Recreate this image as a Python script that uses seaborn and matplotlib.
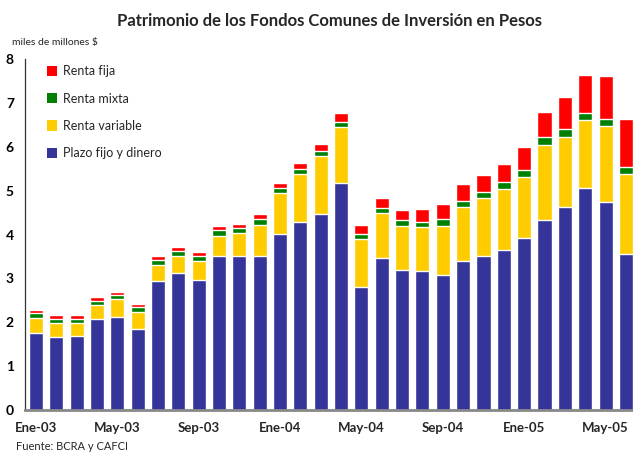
import numpy as np
import pandas as pd
import matplotlib
matplotlib.use("Agg")
import matplotlib.pyplot as plt
import seaborn as sns
from matplotlib.patches import Patch

# ── Data (miles de millones de $) ─────────────────────────────────────────────
months = [
    "Ene-03", "Feb-03", "Mar-03", "Abr-03", "May-03", "Jun-03", "Jul-03", "Ago-03",
    "Sep-03", "Oct-03", "Nov-03", "Dic-03", "Ene-04", "Feb-04", "Mar-04", "Abr-04",
    "May-04", "Jun-04", "Jul-04", "Ago-04", "Sep-04", "Oct-04", "Nov-04", "Dic-04",
    "Ene-05", "Feb-05", "Mar-05", "Abr-05", "May-05", "Jun-05",
]
plazo_fijo = [1.76, 1.66, 1.69, 2.07, 2.12, 1.85, 2.94, 3.12, 2.96, 3.51,
              3.51, 3.51, 4.01, 4.29, 4.47, 5.17, 2.80, 3.47, 3.19, 3.17,
              3.08, 3.40, 3.51, 3.65, 3.92, 4.33, 4.63, 5.06, 4.74, 3.56]
renta_variable = [0.34, 0.32, 0.29, 0.32, 0.40, 0.38, 0.37, 0.39, 0.44, 0.46,
                  0.52, 0.71, 0.94, 1.09, 1.32, 1.28, 1.10, 1.02, 1.00, 1.00,
                  1.11, 1.23, 1.32, 1.39, 1.39, 1.71, 1.59, 1.55, 1.73, 1.82]
renta_mixta = [0.10, 0.09, 0.09, 0.09, 0.09, 0.12, 0.11, 0.11, 0.11, 0.13,
               0.12, 0.13, 0.12, 0.11, 0.11, 0.12, 0.12, 0.12, 0.14, 0.12,
               0.16, 0.13, 0.14, 0.16, 0.16, 0.18, 0.19, 0.16, 0.16, 0.16]
renta_fija = [0.09, 0.10, 0.10, 0.10, 0.08, 0.07, 0.09, 0.10, 0.09, 0.09,
              0.09, 0.12, 0.10, 0.14, 0.16, 0.20, 0.20, 0.22, 0.23, 0.29,
              0.35, 0.39, 0.39, 0.41, 0.53, 0.57, 0.73, 0.87, 0.98, 1.09]

tick_labels = ["Ene-03", "May-03", "Sep-03", "Ene-04", "May-04", "Sep-04", "Ene-05", "May-05"]

series = ["Plazo fijo y dinero", "Renta variable", "Renta mixta", "Renta fija"]
colors = {
    "Plazo fijo y dinero": "#353599",
    "Renta variable":      "#FFCC00",
    "Renta mixta":         "#008000",
    "Renta fija":          "#FF0000",
}

df = pd.DataFrame({
    "mes": months,
    "Plazo fijo y dinero": plazo_fijo,
    "Renta variable": renta_variable,
    "Renta mixta": renta_mixta,
    "Renta fija": renta_fija,
})

# cumulative tops, drawn from tallest to shortest so each layer shows
cum = df[series].cumsum(axis=1)

sns.set_style("white")
plt.rcParams["font.family"] = ["Lato", "DejaVu Sans"]

fig = plt.figure(figsize=(6.33, 4.53), dpi=100)
ax = fig.add_axes([25 / 633, 43 / 453, 608 / 633, 351 / 453])

for s in reversed(series):
    sns.barplot(x=df["mes"], y=cum[s], color=colors[s], width=0.69,
                saturation=1, ax=ax, order=months)

ax.set_ylim(0, 8)
ax.set_xlim(-0.54, 29.35)
ax.set_xlabel("")
ax.set_ylabel("")

# y axis
ax.set_yticks(range(0, 9))
ax.tick_params(axis="y", direction="in", length=4, width=0.8, pad=8,
               labelsize=10, colors="black")
for t in ax.get_yticklabels():
    t.set_fontweight("bold")

# x axis: labels every 4 months, small inward ticks between groups
label_pos = [months.index(m) for m in tick_labels]
ax.set_xticks(label_pos)
ax.set_xticklabels(tick_labels, fontsize=9.5, fontweight="bold")
ax.set_xticks(np.arange(3.5, 29, 4), minor=True)
ax.tick_params(axis="x", which="major", length=0, pad=9)
ax.tick_params(axis="x", which="minor", direction="in", length=4, width=1,
               color="#222222")

for side in ["top", "right"]:
    ax.spines[side].set_visible(False)
ax.spines["left"].set_color("#333333")
ax.spines["left"].set_linewidth(0.9)
ax.spines["bottom"].set_color("#888888")
ax.spines["bottom"].set_linewidth(2)

# legend
handles = [Patch(facecolor=colors[s], edgecolor="none") for s in reversed(series)]
ax.legend(handles, list(reversed(series)), loc="upper left",
          bbox_to_anchor=(0.017, 1.014), frameon=False, fontsize=9,
          handlelength=0.8, handleheight=0.9, handletextpad=0.5,
          labelspacing=1.22)

fig.text(0.52, 0.953, "Patrimonio de los Fondos Comunes de Inversión en Pesos",
         ha="center", va="center", fontsize=12, fontweight="bold")
fig.text(12 / 633, 1 - 43 / 453, "miles de millones $", ha="left",
         va="center", fontsize=7.5)
fig.text(16 / 633, 1 - 447 / 453, "Fuente: BCRA y CAFCI", ha="left",
         va="center", fontsize=8)

fig.savefig("out.png", dpi=100)
